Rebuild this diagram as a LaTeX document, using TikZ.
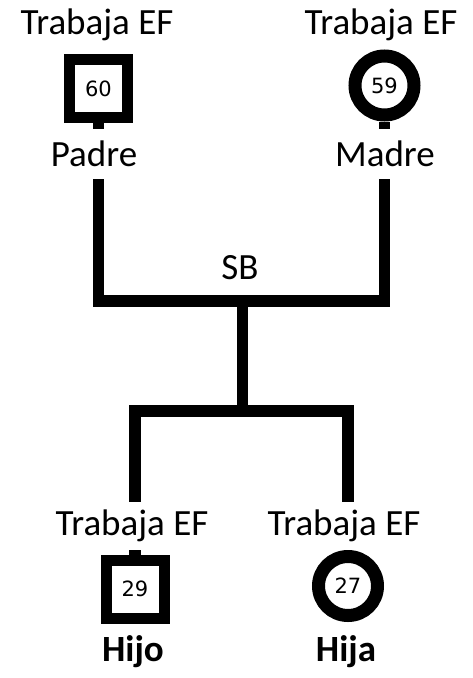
\documentclass[tikz,border=0pt]{standalone}
\usepackage{fontspec}
\setmainfont{Carlito}
\newfontfamily\numfont{DejaVu Sans}
\usetikzlibrary{backgrounds}
\begin{document}
\begin{tikzpicture}[x=1pt,y=-1pt,
  lbl/.style={font=\fontsize{37}{40}\selectfont, inner sep=0pt, fill=white},
  male/.style={draw, rectangle, line width=11pt, minimum size=58pt, inner sep=0pt, fill=white, font=\numfont\fontsize{21}{24}\selectfont},
  female/.style={draw, circle, line width=13pt, minimum size=59pt, inner sep=0pt, fill=white, font=\numfont\fontsize{21}{24}\selectfont},
  link/.style={line width=11.5pt}]
\useasboundingbox (0,0) rectangle (472,678);
% shapes
\node[male] (pa) at (98.5,88.5) {60};
\node[female] (ma) at (384.5,85.5) {59};
\node[male] (hi) at (135,589) {29};
\node[female] (ha) at (348,586) {27};
% labels
\node[lbl] (tpa) at (97,24.5) {Trabaja EF};
\node[lbl] (tma) at (381,24.5) {Trabaja EF};
\node[lbl, minimum height=50pt] (npa) at (94,154) {Padre};
\node[lbl, minimum height=50pt] (nma) at (385,154) {Madre};
\node[lbl] (sb) at (240,268) {SB};
\node[lbl, minimum height=48pt] (thi) at (132,526) {Trabaja EF};
\node[lbl, minimum height=48pt] (tha) at (344,526) {Trabaja EF};
\node[lbl, font=\fontsize{37}{40}\selectfont\bfseries] (nhi) at (133,652) {Hijo};
\node[lbl, font=\fontsize{37}{40}\selectfont\bfseries] (nha) at (346,652) {Hija};
\coordinate (m) at (242.5,301);
\coordinate (c) at (242.5,411);
\begin{scope}[on background layer]
\draw[link] (pa.south) |- (m) -| (ma.south);
\draw[link] (m) -- (c);
\draw[link] (hi.north) |- (c) -| (ha.north);
\end{scope}
\end{tikzpicture}
\end{document}
